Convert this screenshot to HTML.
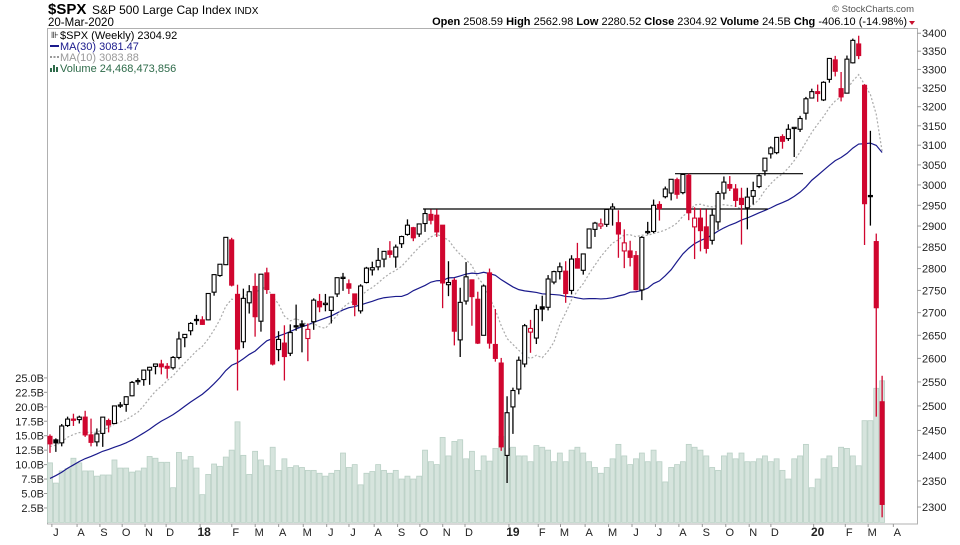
<!DOCTYPE html>
<html><head><meta charset="utf-8"><style>
body{margin:0;background:#fff;width:960px;height:540px;overflow:hidden;font-family:"Liberation Sans",sans-serif}
svg text{font-family:"Liberation Sans",sans-serif}
</style></head><body>
<svg id="chart" width="960" height="540" viewBox="0 0 960 540">
<text x="48" y="14" font-size="15" font-weight="bold">$SPX</text>
<text x="92" y="14" font-size="12">S&amp;P 500 Large Cap Index <tspan font-size="10">INDX</tspan></text>
<text x="48" y="26" font-size="11.5">20-Mar-2020</text>
<text x="914" y="12" font-size="9.5" fill="#555" text-anchor="end">© StockCharts.com</text>
<text x="907" y="25" font-size="11" text-anchor="end"><tspan font-weight="bold">Open</tspan> 2508.59 <tspan font-weight="bold">High</tspan> 2562.98 <tspan font-weight="bold">Low</tspan> 2280.52 <tspan font-weight="bold">Close</tspan> 2304.92 <tspan font-weight="bold">Volume</tspan> 24.5B <tspan font-weight="bold">Chg</tspan> -406.10 (-14.98%)</text>
<path d="M909 21 L915 21 L912 25 Z" fill="#c8102e"/>
<rect x="47.5" y="28.5" width="870" height="495.5" fill="none" stroke="#b0b0b0"/>
<g id="vol"></g>
<g id="lines"></g>
<g id="candles"></g>
<g id="axes"></g>
<g font-size="11">
<text x="60" y="39" font-family="Liberation Mono">$SPX (Weekly) 2304.92</text>
<text x="51" y="38" font-size="9">⊪</text>
<rect x="50" y="45" width="9" height="2" fill="#1a1a8c"/>
<text x="60" y="50" fill="#1a1a8c">MA(30) 3081.47</text>
<line x1="50" y1="57" x2="59" y2="57" stroke="#999" stroke-dasharray="2,1.5" stroke-width="2"/>
<text x="60" y="61" fill="#999">MA(10) 3083.88</text>
<path d="M50 72 v-4 h2 v4 M53 72 v-7 h2 v7 M56 72 v-5 h2 v5" fill="#2e6b4a" stroke="none"/>
<text x="60" y="72" fill="#2e6b4a">Volume 24,468,473,856</text>
</g>
</svg>
<script>
const priorCloses=[2258,2264,2239,2277,2275,2271,2295,2297,2316,2351,2367,2383,2373,2378,2344,2363,2356,2329,2349,2384,2399,2391,2382,2416,2439,2432,2433,2438,2424];
const opens=[2438,2431,2425,2460,2473,2472,2477,2441,2427,2444,2470,2464,2501,2503,2521,2551,2555,2575,2583,2588,2583,2580,2602,2645,2660,2685,2684,2684,2746,2784,2809,2867,2741,2636,2722,2759,2681,2790,2741,2619,2633,2611,2671,2675,2643,2680,2725,2718,2705,2742,2780,2765,2742,2704,2768,2797,2804,2822,2841,2827,2858,2880,2896,2881,2906,2928,2926,2902,2763,2773,2640,2726,2774,2730,2650,2790,2630,2590,2400,2498,2535,2588,2657,2644,2713,2712,2769,2793,2794,2750,2823,2796,2848,2892,2900,2904,2941,2908,2841,2841,2830,2751,2885,2887,2952,2971,2980,3013,2981,3024,2898,2919,2898,2866,2910,2980,3001,2990,2967,2944,2972,2996,3035,3078,3081,3122,3117,3144,3141,3183,3223,3240,3218,3273,3326,3248,3236,3318,3370,3257,2974,2863,2508.59];
const highs=[2442,2434,2463,2478,2484,2480,2490,2474,2454,2477,2474,2500,2508,2520,2552,2558,2576,2582,2588,2597,2590,2605,2658,2652,2679,2695,2692,2743,2787,2810,2873,2872,2763,2754,2762,2789,2787,2802,2741,2659,2672,2674,2718,2683,2676,2732,2742,2742,2736,2779,2790,2775,2743,2764,2804,2816,2848,2841,2864,2856,2877,2916,2898,2906,2941,2940,2940,2902,2817,2778,2756,2815,2775,2747,2763,2800,2708,2601,2520,2538,2604,2675,2684,2718,2738,2785,2795,2814,2817,2831,2860,2835,2894,2910,2918,2940,2955,2938,2892,2865,2841,2876,2910,2964,2960,2996,3014,3018,3028,3028,2945,2943,2940,2940,2985,3021,3022,3002,2993,2993,3008,3027,3067,3097,3120,3128,3154,3146,3176,3226,3248,3259,3268,3329,3337,3293,3338,3385,3393,3260,3137,2882,2562.98];
const lows=[2405,2407,2418,2457,2459,2464,2437,2418,2418,2417,2446,2463,2496,2488,2520,2544,2542,2544,2566,2566,2557,2576,2598,2624,2650,2673,2673,2683,2738,2781,2808,2759,2532,2622,2698,2647,2658,2742,2585,2594,2553,2605,2660,2613,2594,2662,2701,2703,2676,2735,2749,2742,2692,2698,2766,2784,2796,2803,2825,2802,2848,2877,2864,2874,2886,2904,2874,2710,2737,2628,2603,2718,2671,2631,2650,2621,2593,2409,2346,2443,2524,2581,2612,2631,2681,2705,2764,2775,2722,2741,2800,2786,2848,2874,2893,2898,2901,2825,2801,2805,2750,2728,2880,2883,2913,2967,2962,2966,2977,2914,2822,2840,2835,2856,2891,2964,2985,2946,2856,2892,2952,2992,3023,3066,3077,3091,3111,3070,3134,3166,3223,3213,3215,3264,3281,3214,3235,3316,3328,2855,2901,2478,2280.52];
const closes=[2423,2425,2459,2473,2472,2477,2441,2426,2443,2477,2461,2500,2502,2519,2549,2553,2575,2581,2588,2582,2579,2602,2642,2652,2676,2683,2674,2743,2786,2810,2873,2762,2620,2732,2747,2691,2787,2752,2588,2641,2604,2656,2670,2670,2663,2728,2713,2721,2735,2779,2780,2755,2718,2760,2801,2802,2819,2840,2833,2850,2875,2902,2872,2905,2930,2914,2886,2767,2768,2659,2723,2781,2736,2633,2760,2633,2600,2417,2486,2532,2596,2671,2665,2707,2708,2776,2793,2804,2743,2822,2801,2834,2893,2907,2905,2940,2946,2881,2860,2826,2752,2873,2887,2950,2942,2990,3014,2977,3026,2932,2919,2889,2847,2926,2979,3007,2992,2962,2952,2970,2986,3023,3067,3093,3120,3110,3141,3146,3169,3221,3240,3235,3265,3330,3295,3226,3328,3380,3338,2954,2972,2711,2304.92];
const volumes=[10.3,6.8,8.9,9.3,11.1,10.3,8.9,8.9,8.0,8.2,8.2,10.8,9.4,9.4,8.7,8.9,9.4,11.4,11.1,10.4,10.4,6.0,12.1,10.8,11.4,9.4,4.8,8.3,10.1,9.7,11.3,12.5,17.4,11.6,8.3,12.3,10.8,9.8,13.0,9.0,11.0,9.5,9.8,9.5,9.0,9.0,8.5,8.0,8.5,9.0,12.0,9.5,10.0,6.5,8.5,8.8,10.0,9.0,8.5,9.0,7.5,8.0,7.5,8.0,12.5,10.5,10.0,14.7,11.5,14.0,14.3,11.0,12.3,9.0,11.5,10.6,12.8,14.9,12.8,13.0,11.5,11.5,10.5,13.3,13.0,12.5,10.5,12.0,10.5,12.5,13.0,12.0,10.5,9.5,8.5,9.5,11.0,13.5,11.5,10.0,11.0,12.0,10.5,12.5,10.5,7.0,9.5,10.0,10.5,13.5,13.0,12.5,11.5,9.5,9.0,11.5,12.0,11.0,12.0,10.5,10.5,11.0,11.5,10.5,11.0,9.0,7.5,11.0,11.5,13.5,6.0,7.5,11.0,11.5,9.5,13.0,12.8,11.5,9.8,17.6,17.6,23.2,24.5];
const priceTicks=[3400,3350,3300,3250,3200,3150,3100,3050,3000,2950,2900,2850,2800,2750,2700,2650,2600,2550,2500,2450,2400,2350,2300];
const volTicks=[2.5,5.0,7.5,10.0,12.5,15.0,17.5,20.0,22.5,25.0];
const monthLabels=["J","A","S","O","N","D","18","F","M","A","M","J","J","A","S","O","N","D","19","F","M","A","M","J","J","A","S","O","N","D","20","F","M","A"];
const monthWeeks=[1,5.3,9.2,13,16.9,20.5,26.3,31.7,35.7,39.7,43.9,47.9,51.7,56,60,63.8,67.7,71.5,79,84,87.8,92,96,100,104,108,112,116,120,123.7,131,136.4,140.3,144.6];
const resistanceLevels=[[2941,64,122.5],[3028,107,128.5]];

const NS="http://www.w3.org/2000/svg";
const X0=50, DX=5.86;
const xw=i=>X0+i*DX;
const yp=p=>507-(Math.log10(p)-Math.log10(2300))*2791;
const yv=v=>522.4-v*5.78;
function mk(tag,attrs,parent){const e=document.createElementNS(NS,tag);for(const k in attrs)e.setAttribute(k,attrs[k]);parent.appendChild(e);return e;}
const gV=document.getElementById('vol'),gL=document.getElementById('lines'),gC=document.getElementById('candles'),gA=document.getElementById('axes');

volumes.forEach((v,i)=>{
  const r=mk('rect',{x:xw(i)-2.5,y:yv(v),width:5,height:522.4-yv(v),fill:'#d6e4dd',stroke:'#b9d0c5','stroke-width':0.8},gV);
  
  
});

const all=priorCloses.concat(closes);
function ma(n){const pts=[];for(let i=0;i<closes.length;i++){const j=i+priorCloses.length;const s=all.slice(Math.max(0,j-n+1),j+1);pts.push([xw(i),yp(s.reduce((a,b)=>a+b,0)/s.length)]);}return pts;}
const ma30=ma(30),ma10=ma(10);
const p30=mk('polyline',{points:ma30.map(p=>p.join(',')).join(' '),fill:'none',stroke:'#1a1a8c','stroke-width':1.2},gL);


const p10=mk('polyline',{points:ma10.map(p=>p.join(',')).join(' '),fill:'none',stroke:'#aaa','stroke-width':1.2,'stroke-dasharray':'2,2'},gL);


resistanceLevels.forEach(r=>{
  const l=mk('line',{x1:xw(r[1])-2,x2:xw(r[2]),y1:yp(r[0]),y2:yp(r[0]),stroke:'#000','stroke-width':1.2},gL);
  
  
});

closes.forEach((c,i)=>{
  const o=opens[i],h=highs[i],lo=lows[i];
  const prev=i>0?closes[i-1]:priorCloses[priorCloses.length-1];
  const col=c<prev?'#d0062f':'#000';
  const x=xw(i);
  const g=mk('g',{},gC);
  
  
  const top=yp(Math.max(o,c)),bot=yp(Math.min(o,c));
  mk('line',{x1:x,x2:x,y1:yp(h),y2:top,stroke:col,'stroke-width':1.3},g);
  mk('line',{x1:x,x2:x,y1:bot,y2:yp(lo),stroke:col,'stroke-width':1.3},g);
  const hollow=c>=o;
  mk('rect',{x:x-2,y:top,width:4,height:Math.max(bot-top,1.2),fill:hollow?'#fff':col,stroke:col,'stroke-width':1.1},g);
});

priceTicks.forEach(p=>{
  const y=yp(p);
  mk('line',{x1:917,x2:921,y1:y,y2:y,stroke:'#999'},gA);
  const t=mk('text',{x:922,y:y+4,'font-size':11,fill:'#222'},gA);
  t.textContent=p;
  
  
});
volTicks.forEach(v=>{
  const y=yv(v);
  mk('line',{x1:44,x2:47,y1:y,y2:y,stroke:'#999'},gA);
  const t=mk('text',{x:44,y:y+4,'font-size':11,fill:'#222','text-anchor':'end'},gA);
  t.textContent=v.toFixed(1)+'B';
  
  
});
monthLabels.forEach((m,i)=>{
  const x=xw(monthWeeks[i]);
  mk('line',{x1:x-4,x2:x-4,y1:524,y2:527,stroke:'#999'},gA);
  const bold=m.length===2;
  const t=mk('text',{x:x,y:536,'font-size':bold?12:11,'font-weight':bold?'bold':'normal','text-anchor':'middle',fill:'#222'},gA);
  t.textContent=m;
  
  
});
</script>
</body></html>
